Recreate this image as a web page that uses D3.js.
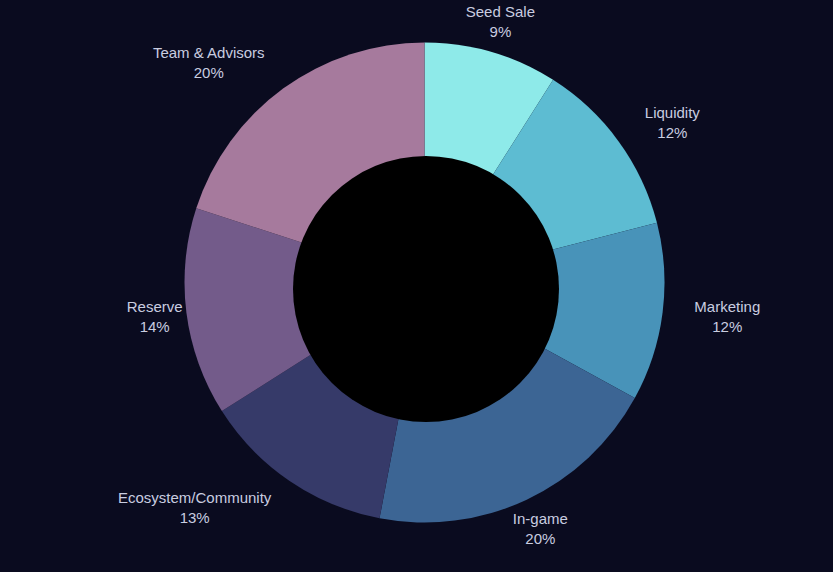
<!DOCTYPE html>
<html>
<head>
<meta charset="utf-8">
<script src="https://cdn.jsdelivr.net/npm/d3@7"></script>
<style>
  html, body { margin: 0; padding: 0; background: #0a0b1f; }
  svg { display: block; }
</style>
</head>
<body>
<svg id="chart" width="833" height="572"></svg>
<script>
const categories = ["Seed Sale", "Liquidity", "Marketing", "In-game", "Ecosystem/Community", "Reserve", "Team & Advisors"];
const shares = [9, 12, 12, 20, 13, 14, 20];
const sliceColors = ["#8eeae9", "#5dbcd2", "#4893b9", "#3c6594", "#363a69", "#735b8a", "#a67a9d"];

const labelAnchor = {
  "Seed Sale": "middle", "Liquidity": "start", "Marketing": "start", "In-game": "middle",
  "Ecosystem/Community": "end", "Reserve": "middle", "Team & Advisors": "end"
};

const W = 833, H = 572;
const cx = 424.5, cy = 282.5, R = 240, labelR = 272;
const svg = d3.select("#chart");
svg.append("rect").attr("width", W).attr("height", H).attr("fill", "#0a0b1f");

const data = categories.map((c, i) => ({ name: c, value: shares[i] }));
const color = d3.scaleOrdinal().domain(categories).range(sliceColors);
const pie = d3.pie().sort(null).value(d => d.value);
const arc = d3.arc().innerRadius(0).outerRadius(R);
const labelArc = d3.arc().innerRadius(labelR).outerRadius(labelR);

const g = svg.append("g").attr("transform", `translate(${cx},${cy})`);
const arcs = pie(data);

g.selectAll("path.slice").data(arcs).join("path")
  .attr("class", "slice")
  .attr("d", arc)
  .attr("fill", d => color(d.data.name));

// inner dark disc
svg.append("circle").attr("cx", cx + 1.5).attr("cy", cy + 6.5).attr("r", 133).attr("fill", "#000");

const total = d3.sum(shares);
const labels = g.selectAll("g.lbl").data(arcs).join("g")
  .attr("class", "lbl")
  .attr("transform", d => `translate(${labelArc.centroid(d)})`);

labels.each(function(d) {
  const grp = d3.select(this);
  const t = grp.append("text")
    .attr("text-anchor", "middle")
    .attr("font-family", "'Liberation Sans', Arial, sans-serif")
    .attr("font-size", 15)
    .attr("fill", "#c9cde0");
  const l1 = t.append("tspan").attr("x", 0).attr("y", -10).attr("dy", "0.35em").text(d.data.name);
  t.append("tspan").attr("x", 0).attr("y", 10).attr("dy", "0.35em")
    .text(Math.round(d.data.value / total * 100) + "%");
  const w = t.node().getBBox().width;
  const a = labelAnchor[d.data.name];
  const shift = a === "start" ? w / 2 : a === "end" ? -w / 2 : 0;
  t.attr("transform", `translate(${shift},0)`);
});
</script>
</body>
</html>
